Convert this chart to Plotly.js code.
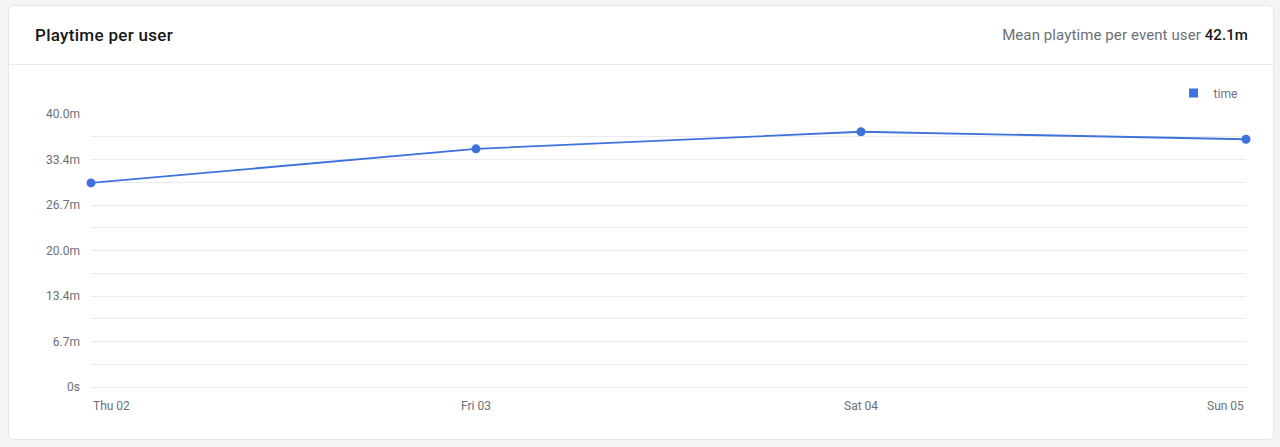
<!DOCTYPE html>
<html>
<head>
<meta charset="utf-8">
<script src="https://cdn.plot.ly/plotly-3.0.1.min.js"></script>
<style>
  html, body { margin: 0; padding: 0; background: #f3f4f6; font-family: Roboto, "Noto Sans", sans-serif; }
  .card {
    position: absolute; left: 8px; top: 5px; width: 1264px; height: 433px;
    background: #fff; border: 1px solid #e5e7eb; border-radius: 6px; overflow: hidden;
  }
  .card-head {
    height: 58px; border-bottom: 1px solid #e8e9ec; display: flex;
    align-items: center; justify-content: space-between; padding: 0 25px 0 26px;
  }
  .card-title { font-size: 17px; font-weight: 500; color: #17181a; letter-spacing: 0.3px; }
  .card-stat { font-size: 15px; color: #6b6f76; letter-spacing: 0.1px; }
  .card-stat b { color: #17181a; font-weight: 500; }
  #graph { width: 1264px; height: 374px; }
</style>
</head>
<body>
<div class="card">
  <div class="card-head">
    <div class="card-title">Playtime per user</div>
    <div class="card-stat">Mean playtime per event user <b id="mean"></b></div>
  </div>
  <div id="graph"></div>
</div>
<script>
// days on the x axis
const days = ['Thu 02', 'Fri 03', 'Sat 04', 'Sun 05'];
// playtime per user, minutes
const playtime = [29.9, 34.9, 37.4, 36.3];
const meanLabel = '42.1m';

// y ticks (minutes) and their labels
const yTickVals = [0, 20 / 3, 40 / 3, 20, 80 / 3, 100 / 3, 40];
const yTickText = ['0s', '6.7m', '13.4m', '20.0m', '26.7m', '33.4m', '40.0m'];
const yMinorVals = [10 / 3, 10, 50 / 3, 70 / 3, 30, 110 / 3];

document.getElementById('mean').textContent = meanLabel;

const blue = '#3f72dc';
const gridColor = '#ebebed';
const tickFont = { family: 'Roboto, "Noto Sans", sans-serif', size: 12, color: '#6b6f76' };

const traces = [
  {
    x: days,
    y: playtime,
    type: 'scatter',
    mode: 'lines+markers',
    name: 'time',
    line: { color: blue, width: 1.8 },
    marker: { color: blue, size: 9 },
    cliponaxis: false,
    showlegend: false,
    hoverinfo: 'skip',
  },
  {
    // legend entry only
    x: [null],
    y: [null],
    type: 'scatter',
    mode: 'markers',
    name: 'time',
    marker: { color: blue, size: 9, symbol: 'square' },
  },
];

const annotations = days.map((d, i) => ({
  x: d,
  y: 0,
  xref: 'x',
  yref: 'paper',
  text: d,
  showarrow: false,
  yanchor: 'top',
  yshift: -10,
  xanchor: i === 0 ? 'left' : (i === days.length - 1 ? 'right' : 'center'),
  font: tickFont,
}));

const layout = {
  width: 1264,
  height: 374,
  margin: { l: 82, r: 27, t: 49, b: 52 },
  paper_bgcolor: '#ffffff',
  plot_bgcolor: '#ffffff',
  font: tickFont,
  showlegend: true,
  legend: {
    x: 0.997, y: 1.077, xanchor: 'right', yanchor: 'middle',
    font: tickFont, bgcolor: 'rgba(0,0,0,0)',
    itemwidth: 30,
  },
  xaxis: {
    type: 'category',
    range: [0, days.length - 1],
    showgrid: false,
    zeroline: false,
    showline: false,
    showticklabels: false,
    ticks: '',
    fixedrange: true,
  },
  yaxis: {
    range: [0, 40],
    tickmode: 'array',
    tickvals: yTickVals,
    ticktext: yTickText,
    showgrid: true,
    gridcolor: gridColor,
    gridwidth: 1,
    zeroline: true,
    zerolinecolor: gridColor,
    zerolinewidth: 1,
    showline: false,
    ticks: '',
    ticklabelstandoff: 10,
    tickfont: tickFont,
    minor: { tickvals: yMinorVals, showgrid: true, gridcolor: gridColor, gridwidth: 1, ticks: '' },
    fixedrange: true,
  },
  annotations,
};

Plotly.newPlot('graph', traces, layout, { displayModeBar: false, staticPlot: true });
</script>
</body>
</html>
